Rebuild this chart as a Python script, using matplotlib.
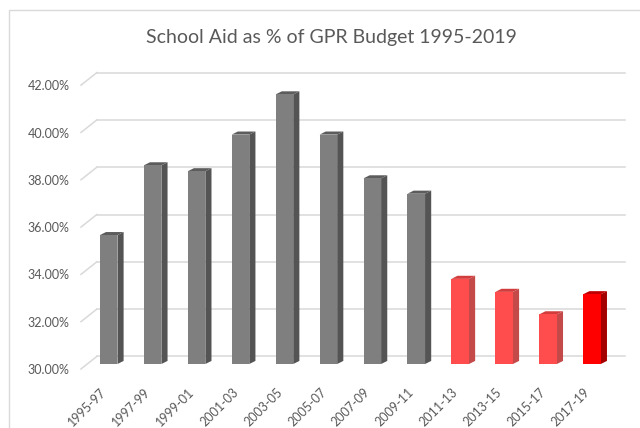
import matplotlib
matplotlib.use("Agg")
import matplotlib.pyplot as plt
from matplotlib.patches import Polygon, Rectangle
from matplotlib.transforms import ScaledTranslation

# ---- data ----
periods = ["1995-97", "1997-99", "1999-01", "2001-03", "2003-05", "2005-07",
           "2007-09", "2009-11", "2011-13", "2013-15", "2015-17", "2017-19"]
values = [35.45, 38.4, 38.15, 39.7, 41.4, 39.7, 37.85, 37.2, 33.6, 33.05, 32.1, 32.95]
ytick_values = [30, 32, 34, 36, 38, 40, 42]
ytick_labels = ["30.00%", "32.00%", "34.00%", "36.00%", "38.00%", "40.00%", "42.00%"]
title = "School Aid as % of GPR Budget 1995-2019"

# face colours (front, side, top) per bar group
gray = ("#7f7f7f", "#545454", "#5c5c5c")
light_red = ("#ff4d4d", "#c44a4a", "#d23c3c")
red = ("#ff0000", "#a50000", "#c00000")
bar_styles = [gray] * 8 + [light_red] * 3 + [red]

W, H = 640, 428
fig = plt.figure(figsize=(W / 100, H / 100), dpi=100)
plt.rcParams["font.family"] = ["Lato", "DejaVu Sans"]
TXT = "#595959"
GRID = "#d9d9d9"

# chart border
fig.patches.append(Rectangle((8.5 / W, -0.5), 2, (H - 10) / H + 0.5,
                             transform=fig.transFigure, fill=False,
                             edgecolor=GRID, lw=1))

ax = fig.add_axes([86.7 / W, 64 / H, 527.3 / W, 283.8 / H])
ax.set_xlim(-0.5, 11.5)
ax.set_ylim(30, 42)
for s in ax.spines.values():
    s.set_visible(False)

# 3-D depth in data units
DX, DY = 0.14, 0.13
BACK_Y, FRONT_Y = 0.32, -0.21
BACK_X0, FRONT_X0, X1 = -0.27, -0.63, 11.75

# back-wall gridlines and floor diagonals
for v in ytick_values:
    ax.plot([BACK_X0, X1], [v + BACK_Y, v + BACK_Y], color=GRID, lw=1.1,
            clip_on=False, zorder=1)
    ax.plot([FRONT_X0, BACK_X0], [v + FRONT_Y, v + BACK_Y], color=GRID, lw=1.1,
            clip_on=False, zorder=1)

# bars
bw = 0.4
xs = list(range(len(periods)))
bars = ax.bar(xs, [v - 30 for v in values], bottom=30, width=bw,
              color=[s[0] for s in bar_styles], zorder=3, clip_on=False)
for b, v, st in zip(bars, values, bar_styles):
    x0 = b.get_x()
    x1 = x0 + b.get_width()
    side = Polygon([(x1, 30), (x1 + DX, 30 + DY), (x1 + DX, v + DY), (x1, v)],
                   closed=True, facecolor=st[1], edgecolor="none", zorder=2,
                   clip_on=False)
    top = Polygon([(x0, v), (x0 + DX, v + DY), (x1 + DX, v + DY), (x1, v)],
                  closed=True, facecolor=st[2], edgecolor="none", zorder=2,
                  clip_on=False)
    ax.add_patch(side)
    ax.add_patch(top)

# ticks
ax.set_yticks(ytick_values)
ax.set_yticklabels(ytick_labels, fontsize=9, color=TXT)
ax.tick_params(axis="y", length=0, pad=12.5)
for lab in ax.get_yticklabels():
    lab.set_transform(lab.get_transform() + ScaledTranslation(0, -0.05, fig.dpi_scale_trans))

ax.set_xticks(xs)
ax.set_xticklabels(periods, rotation=45, ha="right", va="top",
                   fontsize=9, color=TXT)
ax.tick_params(axis="x", length=0, pad=16)

fig.text(331 / W, 1 - 37 / H, title, ha="center", va="center",
         fontsize=14, color=TXT)

fig.savefig("out.png", dpi=100)
